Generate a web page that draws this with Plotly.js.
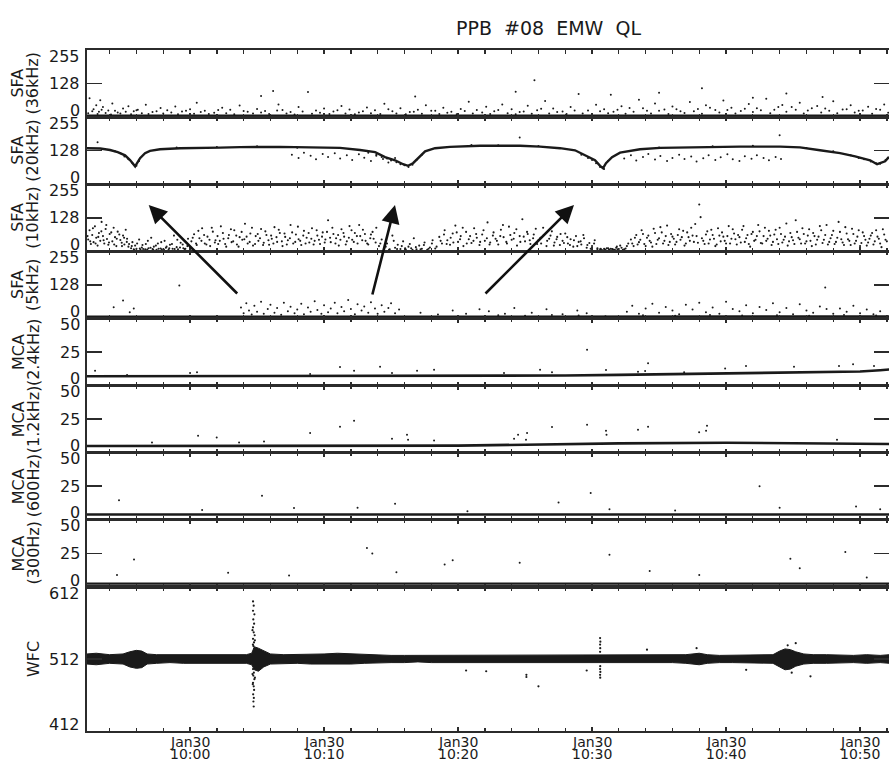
<!DOCTYPE html>
<html><head><meta charset="utf-8">
<script src="https://cdn.plot.ly/plotly-3.0.1.min.js"></script>
<style>html,body{margin:0;padding:0;background:#fff}#chart{width:889px;height:763px}</style>
</head><body><div id="chart"></div>
<script>
// ================= DATA (time = minutes after Jan30 10:00) =================
const chartTitle = "PPB  #08  EMW  QL";
const panelNames = ["SFA","SFA","SFA","SFA","MCA","MCA","MCA","MCA","WFC"];
const panelBands = ["(36kHz)","(20kHz)","(10kHz)","(5kHz)","(2.4kHz)","(1.2kHz)","(600Hz)","(300Hz)",""];
const yMin = [0,0,0,0,0,0,0,0,412];
const yMid = [128,128,128,128,25,25,25,25,512];
const yMax = [255,255,255,255,50,50,50,50,612];
const timeRange = [-7.69, 52.16];
const timeTicks = [0,10,20,30,40,50];
const tickDate = ["Jan30","Jan30","Jan30","Jan30","Jan30","Jan30"];
const tickClock = ["10:00","10:10","10:20","10:30","10:40","10:50"];

// SFA 36kHz
const p1Base = [[-7.7,6],[5,6],[15,5],[25,6],[35,6],[45,6],[52.2,6]];
const p1Dots = [[-7.5,72],[-7.2,30],[-7,45],[-6.8,20],[-6.7,64],[-6.5,38],[-6.1,25],[-5.8,52],[-5.4,18],[-5,33],[-4.6,41],[-4.2,22],[-3.9,28],[-3.3,47],[-2.8,19],[-2.2,35],[-1.7,26],[-1.1,40],[-0.6,21],[0,30],[0.5,55],[1.1,24],[1.8,17],[2.4,36],[3,28],[3.7,44],[4.3,20],[5,31],[5.3,80],[5.6,23],[6.2,99],[6.6,48],[6.9,27],[7.5,19],[8.1,38],[8.8,95],[9.4,25],[10,33],[10.7,21],[11.3,42],[11.9,29],[12.6,18],[13.2,37],[13.8,26],[14.5,51],[15.1,22],[15.7,34],[16.4,19],[16.8,78],[17,28],[17.6,45],[18.3,24],[18.9,36],[19.5,20],[20.2,31],[20.8,58],[21.4,27],[22.1,39],[22.7,22],[23.3,48],[24,30],[24.3,96],[24.6,19],[25.2,43],[25.7,140],[25.9,26],[26.5,61],[27.1,33],[27.8,21],[28.4,38],[29,88],[29.7,25],[30.3,47],[30.9,30],[31.4,85],[31.6,20],[32.2,41],[32.8,35],[33.5,66],[34.1,24],[34.7,52],[35,93],[35.4,29],[36,40],[36.6,22],[37.3,57],[37.9,31],[38.2,110],[38.5,45],[39.2,27],[39.8,63],[40.4,36],[41.1,23],[41.7,50],[42,74],[42.3,34],[43,70],[43.6,28],[44.2,46],[44.5,90],[44.9,38],[45.5,55],[46.1,25],[46.8,42],[47.2,76],[47.4,33],[48,60],[48.7,29],[49.3,45],[49.9,24],[50.6,39],[51.2,31],[51.8,48]];
const p1LowDots = [[-7.6,15],[-7.3,22],[-6.9,12],[-6.6,28],[-6.3,16],[-5.9,10],[-5.6,24],[-5.2,14],[-4.8,20],[-4.4,11],[-4,26],[-3.6,15],[-3.1,12],[-2.5,22],[-2,14],[-1.4,18],[-0.9,11],[-0.3,24],[0.3,13],[0.8,19],[1.4,12],[2.1,27],[2.7,15],[3.3,11],[4,23],[4.7,14],[5.3,18],[5.9,12],[6.5,25],[7.2,14],[7.8,10],[8.4,21],[9.1,13],[9.7,17],[10.4,12],[11,26],[11.6,14],[12.3,11],[12.9,22],[13.5,15],[14.2,12],[14.8,30],[15.4,14],[16.1,11],[16.7,20],[17.3,13],[18,24],[18.6,12],[19.2,17],[19.9,11],[20.5,23],[21.1,14],[21.8,18],[22.4,12],[23,27],[23.7,15],[24.3,11],[24.9,21],[25.5,13],[26.2,32],[26.8,14],[27.4,19],[28.1,12],[28.7,25],[29.3,14],[30,11],[30.6,22],[31.2,15],[31.9,28],[32.5,13],[33.1,20],[33.8,34],[34.4,14],[35,24],[35.7,12],[36.3,30],[36.9,16],[37.6,22],[38.2,13],[38.8,36],[39.5,18],[40.1,27],[40.7,14],[41.4,32],[42,19],[42.6,26],[43.3,15],[43.9,38],[44.5,20],[45.2,28],[45.8,14],[46.4,34],[47.1,18],[47.7,24],[48.3,15],[49,30],[49.6,18],[50.2,25],[50.9,13],[51.5,28],[52.1,17]];

// SFA 20kHz
const p2Curve = [[-7.69,137],[-6.7,136],[-5.97,130],[-5.4,122],[-4.85,110],[-4.48,92],[-4.1,68],[-3.73,99],[-3.36,118],[-2.99,127],[-2.24,133],[-0.75,137],[2.24,139],[3.73,141],[6.72,142],[9.7,141],[11.19,138],[12.69,130],[13.81,122],[14.55,103],[15.3,91],[15.9,76],[16.27,70],[16.64,80],[17.16,106],[17.54,125],[18.28,137],[19.4,142],[21.64,146],[24.63,146],[26.12,143],[27.61,137],[28.73,129],[29.48,110],[30.22,91],[30.6,70],[30.82,61],[31.04,80],[31.49,103],[32.09,120],[33.58,133],[35.07,138],[38.06,141],[41.04,143],[44.03,143],[45.52,140],[47.01,129],[48.51,118],[49.63,106],[50.75,91],[51.27,76],[51.87,87],[52.16,104]];
const p2Dots = [[-6.9,160],[-5.6,125],[-5.2,118],[-4.9,105],[-4.6,95],[-4.3,80],[-4.0,70],[-3.8,88],[-1,140],[2,142],[5,144],[8,139],
[7.6,112],[8.1,100],[8.5,120],[9,108],[9.4,95],[9.9,115],[10.3,104],[10.8,118],[11.2,98],[11.7,110],[12.1,92],[12.6,114],[13,101],[13.5,88],[13.9,108],[14.4,96],[14.8,83],[15.3,100],
[13.3,120],[13.9,112],[14.3,104],[14.7,98],[15.0,90],[15.4,84],[15.7,76],[16.0,72],[16.3,66],[16.6,74],[16.9,92],[17.3,112],[21,149],[23,148],[24.6,178],[26,145],
[29.2,112],[29.7,100],[30.0,92],[30.3,80],[30.6,66],[30.9,58],[31.2,88],
[32.4,98],[32.9,110],[33.3,90],[33.8,104],[34.2,115],[34.7,94],[35.1,107],[35.6,88],[36,100],[36.5,112],[36.9,96],[37.4,105],[37.8,86],[38.3,99],[38.7,110],[39.2,92],[39.6,103],[40.1,114],[40.5,95],[41,88],[41.4,106],[41.9,97],[42.3,110],[42.8,100],[43.2,91],[43.7,104],[44,186],[44.1,96],[35,140],[39,144],[42,146],[46,138],
[48,125],[48.8,115],[49.3,110],[49.9,100],[50.3,95],[50.8,86],[51.2,80],[51.5,78],[51.9,92]];

// SFA 10kHz
const p3Dots = [[-7.6,45],[-7.5,80],[-7.4,28],[-7.3,62],[-7.2,35],[-7.1,95],[-7,52],[-6.9,22],[-6.8,70],[-6.7,40],[-6.6,112],[-6.5,58],[-6.4,30],[-6.3,85],[-6.2,47],[-6.1,25],[-6,66],[-5.8,38],[-5.7,90],[-5.6,54],[-5.5,20],[-5.4,75],[-5.2,43],[-5.1,33],[-5,60],[-4.9,26],[-4.8,82],[-4.7,48],[-4.6,18],
[-4.4,12],[-4.3,35],[-4.2,8],[-4.1,22],[-4,10],[-3.8,45],[-3.7,6],[-3.6,15],[-3.5,9],[-3.3,28],[-3.2,7],[-3.1,12],[-2.9,52],[-2.8,9],[-2.7,18],[-2.5,6],[-2.4,30],[-2.2,11],[-2.1,8],[-1.9,40],[-1.8,14],[-1.6,7],[-1.5,25],[-1.3,10],[-1.2,60],[-1.0,16],[-0.9,8],[-0.7,33],[-0.5,12],[-0.4,9],[-0.2,20],
[0.1,38],[0.3,65],[0.5,24],[0.7,50],[0.9,88],[1.1,30],[1.3,56],[1.5,20],[1.7,75],[1.9,42],[2.1,28],[2.3,95],[2.5,48],[2.7,18],[2.9,62],[3.1,35],[3.3,80],[3.5,26],[3.7,54],[3.9,44],[4.1,105],[4.3,30],[4.5,68],[4.7,22],[4.9,58],[5.1,40],[5.3,85],[5.5,33],[5.7,62],[5.9,25],[6.1,48],[6.3,92],[6.5,36],[6.7,70],[6.9,20],[7.1,55],[7.3,42],[7.5,100],[7.7,30],[7.9,64],[8.1,46],[8.3,24],[8.5,78],[8.7,52],[8.9,34],[9.1,88],[9.3,40],[9.5,60],[9.7,28],[9.9,72],[10.1,45],[10.3,118],[10.5,35],[10.7,66],[10.9,50],[11.1,22],[11.3,84],[11.5,56],[11.7,38],[11.9,96],[12.1,44],[12.3,70],[12.5,30],[12.7,58],[12.9,82],[13.1,40],[13.3,26],[13.5,64],[13.7,48],[13.9,90],
[14.1,20],[14.3,45],[14.5,10],[14.7,30],[14.9,8],[15.1,60],[15.3,14],[15.5,25],[15.7,9],[15.9,38],[16.1,7],[16.3,18],[16.5,12],[16.7,50],[16.9,8],[17.1,22],[17.3,10],[17.5,34],[17.7,6],[17.9,15],[18.1,42],[18.3,11],
[18.6,55],[18.8,30],[19,80],[19.2,42],[19.4,25],[19.6,68],[19.8,98],[20,36],[20.2,58],[20.4,20],[20.6,74],[20.8,46],[21,32],[21.2,88],[21.4,52],[21.6,24],[21.8,64],[22,40],[22.2,110],[22.4,34],[22.6,60],[22.8,48],[23,26],[23.2,82],[23.4,54],[23.6,36],[23.8,94],[24,44],[24.2,70],[24.4,22],[24.6,58],[24.8,122],[25,38],[25.2,66],[25.4,28],[25.6,50],[25.8,86],[26,42],[26.2,30],[26.4,62],[26.6,20],[26.8,48],[27,76],[27.2,34],[27.4,55],[27.6,24],[27.8,40],[28,68],[28.2,30],[28.4,46],[28.6,18],[28.8,58],[29,36],[29.2,26],[29.4,50],[29.6,14],[29.8,32],[30,20],[30.2,42],[30.4,12],
[30.6,8],[30.7,5],[30.9,10],[31,6],[31.2,12],[31.3,7],[31.5,9],[31.6,5],[31.8,14],[31.9,8],[32.1,22],[32.3,6],[32.5,11],[32.7,30],
[32.9,45],[33.1,20],[33.3,62],[33.5,35],[33.7,80],[33.9,28],[34.1,52],[34.3,40],[34.5,18],[34.7,70],[34.9,44],[35.1,92],[35.3,30],[35.5,58],[35.7,24],[35.9,66],[36.1,48],[36.3,36],[36.5,84],[36.7,54],[36.9,22],[37.1,72],[37.3,40],[37.5,60],[37.7,104],[37.9,33],[38.0,178],[38.2,50],[38.4,28],[38.6,76],[38.8,45],[39,62],[39.2,20],[39.4,88],[39.6,38],[39.8,56],[40,30],[40.2,96],[40.4,48],[40.6,68],[40.8,26],[41,54],[41.2,82],[41.4,36],[41.6,62],[41.8,18],[42,74],[42.2,44],[42.4,100],[42.6,32],[42.8,58],[43,40],[43.2,78],[43.4,24],[43.6,64],[43.8,46],[44,90],[44.2,34],[44.4,56],[44.6,22],[44.8,70],[45,42],[45.2,118],[45.4,52],[45.6,30],[45.8,66],[46,38],[46.2,84],[46.4,20],[46.6,58],[46.8,44],[47,96],[47.2,32],[47.4,62],[47.6,26],[47.8,50],[48,78],[48.2,36],[48.4,112],[48.6,46],[48.8,24],[49,68],[49.2,40],[49.4,86],[49.6,30],[49.8,56],[50,20],[50.2,72],[50.4,44],[50.6,34],[50.8,60],[51,26],[51.2,80],[51.4,48],[51.6,16],[51.8,64],[52,38]];
const p3MoreDots = [[-7.65,58],[-7.45,38],[-7.25,88],[-7.05,30],[-6.85,55],[-6.62,76],[-6.45,42],[-6.25,100],[-6.05,34],[-5.88,72],[-5.66,26],[-5.47,48],[-5.28,64],[-5.08,20],[-4.92,52],[-4.72,36],[-4.55,28],
[-4.35,20],[-4.15,5],[-3.95,30],[-3.75,11],[-3.55,24],[-3.35,8],[-3.15,40],[-2.95,14],[-2.75,6],[-2.55,22],[-2.35,10],[-2.15,35],[-1.95,7],[-1.75,18],[-1.55,12],[-1.35,28],[-1.15,9],[-0.95,44],[-0.75,15],[-0.55,26],[-0.35,10],[-0.15,48],
[0.2,52],[0.45,30],[0.62,78],[0.85,40],[1.05,62],[1.22,26],[1.45,44],[1.62,90],[1.85,34],[2.05,58],[2.22,40],[2.45,70],[2.62,28],[2.85,50],[3.05,84],[3.22,38],[3.45,60],[3.62,18],[3.85,74],[4.05,46],[4.22,56],[4.45,36],[4.62,90],[4.85,28],[5.05,66],[5.22,50],[5.45,24],[5.62,76],[5.85,42],[6.05,60],[6.22,30],[6.45,54],[6.62,82],[6.85,38],[7.05,68],[7.22,26],[7.45,50],[7.62,72],[7.85,36],[8.05,94],[8.22,40],[8.45,60],[8.62,30],[8.85,70],[9.05,48],[9.22,26],[9.45,80],[9.62,44],[9.85,56],[10.05,34],[10.22,74],[10.45,52],[10.62,90],[10.85,30],[11.05,62],[11.22,44],[11.45,70],[11.62,26],[11.85,52],[12.05,80],[12.22,36],[12.45,58],[12.62,100],[12.85,42],[13.05,66],[13.22,30],[13.45,50],[13.62,74],[13.85,34],
[14.2,30],[14.6,18],[14.85,6],[15.2,40],[15.45,9],[15.8,20],[16.05,12],[16.4,28],[16.6,6],[16.85,16],[17.2,8],[17.45,24],[17.8,10],[18.05,30],[18.4,18],
[18.7,40],[18.95,64],[19.15,28],[19.45,52],[19.65,34],[19.9,72],[20.15,46],[20.35,90],[20.65,30],[20.9,58],[21.15,40],[21.35,66],[21.65,36],[21.9,80],[22.15,50],[22.35,26],[22.65,72],[22.9,40],[23.15,58],[23.35,100],[23.65,30],[23.9,62],[24.15,48],[24.35,84],[24.65,36],[24.9,56],[25.15,74],[25.35,42],[25.65,64],[25.9,28],[26.15,52],[26.35,90],[26.65,40],[26.9,60],[27.15,22],[27.35,46],[27.65,66],[27.9,32],[28.15,54],[28.35,24],[28.65,42],[28.9,20],[29.15,38],[29.35,62],[29.65,24],[29.9,10],[30.15,30],[30.4,8],
[30.65,10],[30.8,4],[30.95,7],[31.1,12],[31.25,5],[31.4,10],[31.55,8],[31.7,6],[31.85,18],[32,9],[32.2,14],[32.4,8],[32.6,20],
[33,30],[33.2,52],[33.4,26],[33.6,44],[33.8,66],[34,20],[34.2,60],[34.4,34],[34.6,86],[34.8,28],[35,50],[35.2,72],[35.4,40],[35.6,98],[35.8,36],[36,56],[36.2,26],[36.4,62],[36.6,44],[36.8,78],[37,30],[37.2,54],[37.4,90],[37.6,36],[37.8,58],[38.1,130],[38.3,40],[38.5,64],[38.7,30],[38.9,82],[39.1,48],[39.3,26],[39.5,60],[39.7,72],[39.9,40],[40.1,58],[40.3,30],[40.5,84],[40.7,46],[40.9,62],[41.1,34],[41.3,96],[41.5,50],[41.7,28],[41.9,66],[42.1,40],[42.3,58],[42.5,76],[42.7,30],[42.9,90],[43.1,48],[43.3,60],[43.5,36],[43.7,82],[43.9,28],[44.1,66],[44.3,44],[44.5,106],[44.7,38],[44.9,54],[45.1,28],[45.3,74],[45.5,46],[45.7,88],[45.9,30],[46.1,60],[46.3,40],[46.5,70],[46.7,26],[46.9,56],[47.1,80],[47.3,44],[47.5,100],[47.7,36],[47.9,62],[48.1,28],[48.3,52],[48.5,74],[48.7,34],[48.9,92],[49.1,46],[49.3,24],[49.5,66],[49.7,40],[49.9,80],[50.1,32],[50.3,58],[50.5,22],[50.7,48],[50.9,70],[51.1,38],[51.3,56],[51.5,30],[51.7,84],[51.9,44]];

// SFA 5kHz
const p4Base = [[-7.7,7],[10,7],[20,7],[30,8],[40,8],[52.2,8]];
const p4Dots = [[-5.7,43],[-5,68],[-4.5,24],[-4.2,38],[-0.8,125],
[3.8,42],[4,20],[4.2,58],[4.4,30],[4.6,15],[4.8,48],[5,26],[5.3,64],[5.5,18],[5.8,36],[6,52],[6.3,22],[6.5,40],[6.8,14],[7,60],[7.3,28],[7.5,45],[7.8,20],[8,34],[8.3,56],[8.5,16],[8.8,42],[9,26],[9.3,66],[9.5,32],[9.8,18],[10,50],[10.3,24],[10.5,38],[10.8,60],[11,20],[11.3,44],[11.5,28],[11.8,70],[12,36],[12.3,16],[12.5,54],[12.8,30],[13,46],[13.3,22],[13.5,62],[13.8,38],[14,18],[14.3,50],[14.5,26],[14.8,40],[15,58],[15.3,20],[15.6,34],
[17.2,22],[18.5,15],[19.6,30],[20.6,18],[21.6,35],
[22.3,28],[23,12],[23.5,18],[24.2,40],[25,10],[25.5,22],[26.6,35],[27,13],[27.8,16],[28.9,30],[29,11],[29.6,20],[31,9],
[32.6,26],[33,48],[33.5,18],[33.8,12],[34,38],[34.5,56],[35,22],[35.5,44],[36,30],[36.2,10],[36.5,16],[37,52],[37.5,34],[38,60],[38.5,24],[38.8,13],[39,42],[39.5,18],[40,64],[40.5,36],[41,28],[41.2,11],[41.5,50],[42,20],[42.5,44],[43,32],[43.5,58],[43.8,12],[44,24],[44.5,40],[45,16],[45.5,54],[46,30],[46.2,10],[46.5,22],[47,46],[47.4,118],[47.5,36],[48,18],[48.5,38],[48.8,13],[49,26],[49.5,48],[50,20],[50.5,34],[51,16],[51.2,11],[51.5,28]];

// MCA 2.4kHz
const p5Base = [[-7.7,7],[0,7],[10,7],[20,7.2],[28,7.5],[32,8],[36,8.5],[40,9],[44,9.5],[48,10],[50,10.5],[51.5,11.5],[52.2,12]];
const p5Dots = [[-7.09,11],[-4.7,8],[0,9.4],[0.52,10],[8.96,8.7],[11.19,13.8],[12.24,11],[14.18,14],[15.07,9.4],[16.94,11],[18.21,11.8],[23.43,9.4],[26.12,11.8],[27.01,10],[29.63,26.8],[31.04,11.6],[33.43,10.4],[33.96,10.9],[34.18,16.7],[36.87,10],[39.93,12.8],[41.49,14.7],[45.07,14],[48.43,14.7],[49.48,15.9],[51.04,14.7]];

// MCA 1.2kHz
const p6Base = [[-7.7,5],[10,5],[20,5.3],[25,6],[28,6.5],[32,7],[40,7.5],[45,7],[48,6.5],[52.2,6.5]];
const p6Dots = [[-2.84,7.7],[0.6,12.7],[1.99,11.4],[3.66,7.7],[5.52,8.4],[8.96,14.7],[11.19,19.4],[12.24,23.9],[15.07,10.4],[16.19,13.4],[16.27,9.7],[18.21,9.2],[24.18,10.4],[24.48,13.4],[25.07,9.7],[25.15,14.7],[27.01,19.2],[29.63,20.9],[31.04,16.4],[31.08,13.4],[33.43,17.2],[34.18,19.4],[37.99,15.2],[38.51,16.4],[38.58,20.1],[48.28,9.7]];

// MCA 600Hz
const p7Base = [[-7.7,4],[10,4],[20,4],[30,4],[40,4],[52.2,4]];
const p7Dots = [[-5.3,14.7],[0.9,7.4],[5.37,17.9],[7.76,8.8],[12.5,9],[15.3,12],[20.7,6.5],[27.5,13],[29.9,20],[31.3,8],[36.2,7],[42.5,25],[44,9],[49.7,10],[51.5,8]];

// MCA 300Hz
const p8Base = [[-7.7,2.5],[10,2.5],[20,2.5],[30,2.5],[40,2.5],[52.2,2.5]];
const p8Dots = [[-5.45,9],[-4.18,20.5],[2.84,10.6],[7.39,8.6],[13.2,29],[13.6,25],[15.4,11],[19,16.7],[19.6,20],[24.6,18],[31.3,24],[34.3,12],[38,9],[44.8,21],[45.5,14],[48.9,26],[50.5,7]];

// WFC envelope (time, upper, lower) and isolated samples
const wfcT  = [-7.7,-7,-6,-5,-4.5,-4,-3.6,-3.2,-2.5,-1.5,-0.5,0.5,1.5,2.5,3.5,4.2,4.6,4.8,5.1,5.5,6,7,8,9,10,11,12,13,14,15,16,17,18,19,20,21,22,23,24,25,26,27,28,29,30,31,32,33,34,35,36,37,38,38.6,39.5,40.5,41.5,42.5,43.5,44,44.4,44.8,45.2,45.8,46.5,47.5,48.5,49.5,50.5,51.5,52.2];
const wfcHi = [519,520,518,519,522,524,523,519,518,518,517,518,517,518,517,518,520,529,527,523,519,518,518,519,519,520,519,518,518,517,517,517,517,517,517,517,517,517,517,517,517,517,517,517,517,517,517,517,517,517,517,518,520,518,517,517,517,517,518,523,526,525,522,519,518,518,517,517,518,517,518];
const wfcLo = [505,504,506,505,501,499,500,505,506,507,506,506,507,506,507,506,504,497,495,501,505,506,506,505,505,504,505,506,507,507,507,508,507,507,508,507,507,508,507,507,507,508,507,507,507,507,507,507,507,508,507,506,504,506,507,507,507,507,506,501,497,498,502,505,506,506,507,507,506,507,506];
const wfcDots = [[4.7,592],[4.75,586],[4.7,579],[4.8,574],[4.72,567],[4.78,561],[4.7,556],[4.75,549],[4.82,545],[4.7,540],[4.77,535],[4.73,530],[4.8,526],[4.66,552],[4.84,538],[4.69,532],[4.7,498],[4.76,493],[4.72,489],[4.8,484],[4.7,479],[4.75,474],[4.78,469],[4.71,463],[4.76,458],[4.73,453],[4.75,446],[4.66,491],[4.84,486],[4.68,477],
[30.6,541],[30.62,536],[30.6,532],[30.61,527],[30.6,522],[30.61,502],[30.6,498],[30.62,494],[30.6,490],[30.61,486],
[20.6,496],[22.1,495],[25.1,490],[25.1,487],[26.0,474],[29.6,496],[34.1,525],[37.8,527],[41.5,497],[45.2,534],[44.6,531],[44.9,493],[46.3,488]];

// ================= LAYOUT / RENDER =================
const panelPx = [67.125,67.125,67.125,67.125,67.125,67.125,67.125,67.125,144];
const totalPx = panelPx.reduce((a,b)=>a+b,0);
const domains = []; let domTop = 1;
for (const h of panelPx) { const d = h/totalPx; domains.push([Math.max(0,domTop-d), domTop]); domTop -= d; }
domains[8][0] = 0;

const ink = '#1a1a1a';
const frame = '#2b2b2b';
const fontFam = "DejaVu Sans, sans-serif";
const ax = i => (i===0 ? '' : String(i+1));
const traces = [];
function dots(pairs, i, size) {
  traces.push({x: pairs.map(p=>p[0]), y: pairs.map(p=>p[1]), xaxis:'x'+ax(i), yaxis:'y'+ax(i),
    mode:'markers', marker:{size:size||2.2, color:ink, line:{width:0}}, hoverinfo:'skip', showlegend:false});
}
function line(pairs, i, w) {
  traces.push({x: pairs.map(p=>p[0]), y: pairs.map(p=>p[1]), xaxis:'x'+ax(i), yaxis:'y'+ax(i),
    mode:'lines', line:{width:w||2.5, color:ink}, hoverinfo:'skip', showlegend:false});
}
line(p1Base,0,2.2); dots(p1Dots,0,2); dots(p1LowDots,0,2);
line(p2Curve,1,2.4); dots(p2Dots,1,2);
dots(p3Dots,2,2.1); dots(p3MoreDots,2,2.1);
line(p4Base,3,2.2); dots(p4Dots,3,2);
line(p5Base,4,2.6); dots(p5Dots,4,2);
line(p6Base,5,2.6); dots(p6Dots,5,2);
line(p7Base,6,2.6); dots(p7Dots,6,2);
line(p8Base,7,2.2); dots(p8Dots,7,2);
traces.push({x:wfcT, y:wfcHi, xaxis:'x9', yaxis:'y9', mode:'lines', line:{width:1,color:ink}, hoverinfo:'skip', showlegend:false});
traces.push({x:wfcT, y:wfcLo, xaxis:'x9', yaxis:'y9', mode:'lines', fill:'tonexty', fillcolor:ink, line:{width:1,color:ink}, hoverinfo:'skip', showlegend:false});
dots(wfcDots,8,2.2);

const layout = {
  width:889, height:763, margin:{l:87, r:0, t:50, b:32},
  paper_bgcolor:'#fff', plot_bgcolor:'#fff', showlegend:false,
  font:{family:fontFam, size:15, color:ink}, annotations:[]
};
const W = 889-87, Hh = 763-50-32;
for (let i=0;i<9;i++) {
  const xa = {anchor:'y'+ax(i), domain:[0,1], range:timeRange,
    showline:true, linecolor:frame, linewidth:1.6, mirror:'ticks', ticks:'inside', ticklen:4, tickwidth:1.3, tickcolor:frame,
    tickvals:timeTicks, showticklabels:false, showgrid:false, zeroline:false,
    minor:{dtick:2, tick0:0, ticks:'inside', ticklen:3.5, tickwidth:1.3, tickcolor:frame, showgrid:false}};
  if (i) xa.matches = 'x';
  layout['xaxis'+ax(i)] = xa;
  layout['yaxis'+ax(i)] = {anchor:'x'+ax(i), domain:domains[i], range:[yMin[i], yMax[i]],
    showline:true, linecolor:frame, linewidth:1.6, mirror:'ticks', ticks:'inside', ticklen:15, tickwidth:1.8, tickcolor:frame,
    tickvals:[yMid[i]], showticklabels:false, showgrid:false, zeroline:false};
  const yr = 'y'+ax(i);
  const lab = {xref:'paper', x:-5/W, xanchor:'right', yanchor:'middle', showarrow:false, font:{size:16, family:fontFam, color:ink}};
  layout.annotations.push(Object.assign({}, lab, {yref:yr+' domain', y:1, yshift:-6, text:String(yMax[i])}));
  layout.annotations.push(Object.assign({}, lab, {yref:yr, y:yMid[i], text:String(yMid[i])}));
  layout.annotations.push(Object.assign({}, lab, {yref:yr+' domain', y:0, yshift:7, text:String(yMin[i])}));
  const tl = {xref:'paper', xanchor:'center', yref:yr+' domain', y:0.5, yanchor:'middle', textangle:-90, showarrow:false, font:{size:16, family:fontFam, color:ink}};
  if (panelBands[i]) {
    layout.annotations.push(Object.assign({}, tl, {x:-69/W, text:panelNames[i]}));
    layout.annotations.push(Object.assign({}, tl, {x:-54/W, text:panelBands[i]}));
  } else {
    layout.annotations.push(Object.assign({}, tl, {x:-54/W, text:panelNames[i]}));
  }
}
timeTicks.forEach((t,k)=>{
  layout.annotations.push({xref:'x9', x:t, yref:'paper', y:0, yanchor:'top', yshift:-1, showarrow:false, text:tickDate[k], font:{size:14, family:fontFam, color:ink}});
  layout.annotations.push({xref:'x9', x:t, yref:'paper', y:0, yanchor:'top', yshift:-13, showarrow:false, text:tickClock[k], font:{size:14, family:fontFam, color:ink}});
});
layout.annotations.push({xref:'paper', x:(548-87)/W, yref:'paper', y:1+(50-28)/Hh, yanchor:'middle', showarrow:false, text:chartTitle, font:{size:19, family:fontFam, color:ink}});
// arrows pointing up from the 5kHz panel
const arrowTips = [[148.7,205,90,90],[395,205,-23,91],[574,205,-90,90]];
arrowTips.forEach(a=>{
  layout.annotations.push({xref:'paper', yref:'paper', x:(a[0]-87)/W, y:(731-a[1])/Hh, ax:a[2], ay:a[3], text:'', showarrow:true, arrowhead:2, arrowsize:1.4, arrowwidth:2.6, arrowcolor:'#111'});
});
Plotly.newPlot('chart', traces, layout, {staticPlot:true});
</script>
</body></html>
